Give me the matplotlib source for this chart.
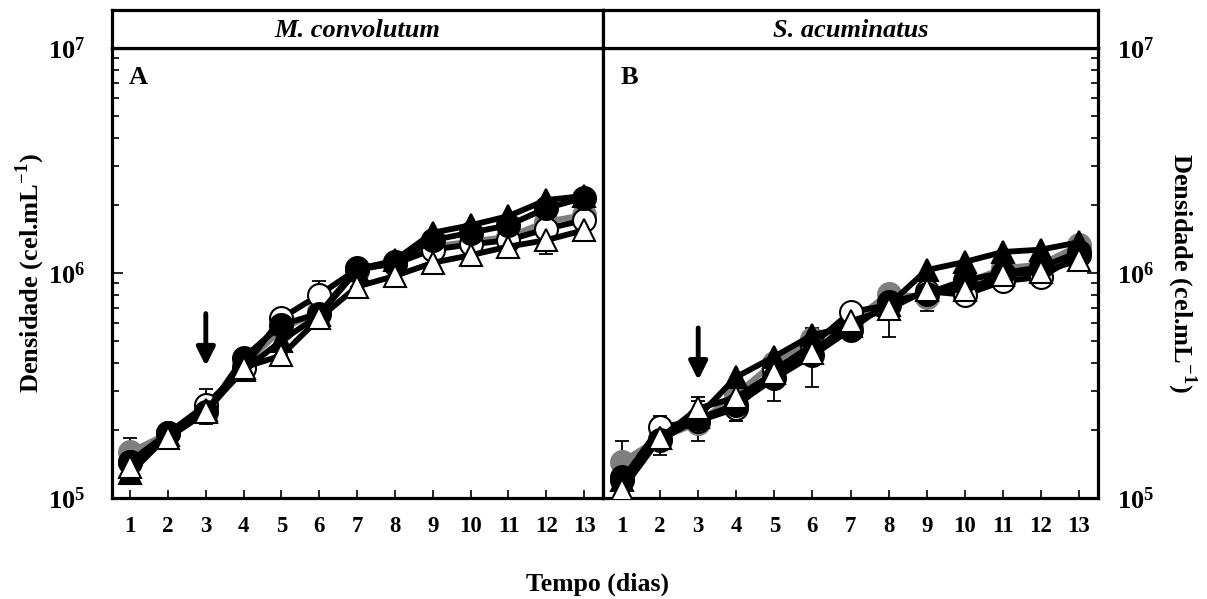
import numpy as np
import matplotlib.pyplot as plt
from matplotlib.ticker import LogLocator, NullFormatter, FixedLocator

plt.rcParams['font.family'] = ['Liberation Serif', 'DejaVu Serif']
plt.rcParams['mathtext.fontset'] = 'custom'
plt.rcParams['mathtext.rm'] = 'Liberation Serif'
plt.rcParams['mathtext.bf'] = 'Liberation Serif:bold'

dias = np.arange(1, 14)
titulos = ['M. convolutum', 'S. acuminatus']
letras = ['A', 'B']

# M. convolutum (cel/mL)
mc_cinza = [1.60e5, 1.94e5, 2.50e5, 3.90e5, 5.60e5, 6.80e5, 1.02e6, 1.12e6, 1.31e6, 1.38e6, 1.45e6, 1.69e6, 1.81e6]
mc_aberto = [1.45e5, 1.94e5, 2.59e5, 3.80e5, 6.30e5, 8.00e5, 1.04e6, 1.10e6, 1.27e6, 1.34e6, 1.40e6, 1.57e6, 1.72e6]
mc_preto = [1.45e5, 1.94e5, 2.40e5, 4.20e5, 5.90e5, 6.60e5, 1.05e6, 1.12e6, 1.40e6, 1.51e6, 1.63e6, 1.94e6, 2.16e6]
mc_tri_preto = [1.29e5, 1.90e5, 2.45e5, 3.70e5, 5.00e5, 6.50e5, 1.03e6, 1.14e6, 1.51e6, 1.63e6, 1.79e6, 2.11e6, 2.20e6]
mc_tri_aberto = [1.38e5, 1.85e5, 2.40e5, 3.80e5, 4.30e5, 6.30e5, 8.70e5, 9.70e5, 1.11e6, 1.20e6, 1.31e6, 1.40e6, 1.55e6]
mc_err_aberto = [0, 0, 0.45e5, 0, 0, 1.2e5, 0, 0, 0, 0, 0, 0, 0]
mc_err_preto = [0, 0, 0.25e5, 0, 0, 0.9e5, 0, 0, 0, 0, 0, 0, 0]
mc_err_cinza = [0.25e5, 0, 0, 0, 0, 0, 0, 0, 0, 0, 0, 0, 0]
mc_err_tri = [0, 0, 0, 0, 0, 0, 0, 0.5e5, 0.8e5, 0.12e6, 0.12e6, 0.18e6, 0]

# S. acuminatus (cel/mL)
sa_cinza = [1.45e5, 1.85e5, 2.15e5, 2.90e5, 4.00e5, 5.10e5, 6.00e5, 8.10e5, 7.80e5, 9.00e5, 1.05e6, 1.09e6, 1.33e6]
sa_aberto = [1.20e5, 2.07e5, 2.20e5, 2.50e5, 3.70e5, 4.80e5, 6.70e5, 7.20e5, 8.30e5, 8.00e5, 9.20e5, 9.60e5, 1.20e6]
sa_preto = [1.24e5, 1.81e5, 2.25e5, 2.60e5, 3.40e5, 4.30e5, 5.60e5, 7.40e5, 8.10e5, 9.30e5, 1.00e6, 1.06e6, 1.24e6]
sa_tri_preto = [1.20e5, 1.85e5, 2.30e5, 3.45e5, 4.25e5, 5.30e5, 5.80e5, 7.20e5, 1.03e6, 1.12e6, 1.24e6, 1.27e6, 1.37e6]
sa_tri_aberto = [1.09e5, 1.85e5, 2.50e5, 2.80e5, 3.60e5, 4.40e5, 6.10e5, 6.90e5, 8.40e5, 8.40e5, 9.80e5, 1.01e6, 1.14e6]
sa_err_aberto = [0, 0.25e5, 0, 0.3e5, 0, 0, 0, 0, 0, 0.6e5, 0, 0, 0]
sa_err_preto = [0, 0.25e5, 0.45e5, 0, 0.7e5, 0, 0, 0, 0, 0, 0, 0, 0]
sa_err_cinza = [0.35e5, 0, 0, 0, 0, 0, 0, 0, 1.0e5, 0, 0, 0, 0]
sa_err_tri = [0, 0, 0.3e5, 0.6e5, 0, 1.3e5, 0, 1.7e5, 0, 0, 0, 0, 0]

# densidade no início e no fim da seta (dia 3)
seta_topo = [6.6e5, 5.7e5]
seta_base = [3.86e5, 3.34e5]

paineis = [
    [(mc_cinza, mc_err_cinza), (mc_aberto, mc_err_aberto), (mc_tri_preto, None),
     (mc_preto, mc_err_preto), (mc_tri_aberto, mc_err_tri)],
    [(sa_cinza, sa_err_cinza), (sa_aberto, sa_err_aberto), (sa_preto, sa_err_preto),
     (sa_tri_preto, None), (sa_tri_aberto, sa_err_tri)],
]
estilos_mc = [('#7f7f7f', 'o', '#7f7f7f', '#7f7f7f'),
              ('black', 'o', 'white', 'black'),
              ('black', '^', 'black', 'black'),
              ('black', 'o', 'black', 'black'),
              ('black', '^', 'white', 'black')]
estilos_sa = [estilos_mc[0], estilos_mc[1], estilos_mc[3], estilos_mc[2], estilos_mc[4]]
estilos = [estilos_mc, estilos_sa]

fig = plt.figure(figsize=(12.07, 5.99), dpi=100)
W, H = 1207, 599
lw_frame = 2.3

posx = [(112, 603, 0.52), (603, 1098, 0.5)]
for i in range(2):
    x0, x1, xlo = posx[i]
    ax = fig.add_axes([x0 / W, 1 - 498 / H, (x1 - x0) / W, (498 - 48) / H])
    hd = fig.add_axes([x0 / W, 1 - 48 / H, (x1 - x0) / W, (48 - 10) / H])
    hd.set_xticks([])
    hd.set_yticks([])
    for s in hd.spines.values():
        s.set_linewidth(lw_frame)
    hd.text(0.5, 0.47, titulos[i], ha='center', va='center', fontsize=19,
            fontweight='bold', style='italic', transform=hd.transAxes)

    for (vals, err), (cor, mk, face, edge) in zip(paineis[i], estilos[i]):
        if err is not None:
            ax.errorbar(dias, vals, yerr=err, fmt='none', ecolor='black',
                        elinewidth=1.3, capsize=5, capthick=1.3, zorder=2)
        ax.plot(dias, vals, color=cor, lw=4.2, marker=mk, markersize=16.5,
                markerfacecolor=face, markeredgecolor=edge, markeredgewidth=1.5, zorder=3)

    ax.set_yscale('log')
    ax.set_ylim(1e5, 1e7)
    ax.set_xlim(xlo, 13.5)
    ax.set_xticks(dias)
    ax.set_xticklabels([str(d) for d in dias], fontsize=16.5, fontweight='bold')
    ax.yaxis.set_major_locator(FixedLocator([1e5, 1e6, 1e7]))
    ax.yaxis.set_minor_locator(LogLocator(base=10, subs=np.arange(2, 10)))
    ax.yaxis.set_minor_formatter(NullFormatter())
    ax.set_yticklabels([r'$\mathbf{10^5}$', r'$\mathbf{10^6}$', r'$\mathbf{10^7}$'], fontsize=19)
    ax.tick_params(axis='x', direction='in', length=6, width=1.2, pad=13, top=False)
    for s in ax.spines.values():
        s.set_linewidth(lw_frame)

    ylab = 'Densidade (cel.mL$^{\\mathbf{-1}}$)'
    if i == 0:
        ax.tick_params(axis='y', which='both', direction='in', left=True, right=False, width=1.2)
        ax.tick_params(axis='y', which='major', length=8, pad=19)
        ax.tick_params(axis='y', which='minor', length=5)
        ax.set_ylabel(ylab, fontsize=19, fontweight='bold', va='center')
        ax.yaxis.set_label_coords((30 - 112) / 491, 0.5)
    else:
        ax.yaxis.tick_right()
        ax.yaxis.set_label_position('right')
        ax.tick_params(axis='y', which='both', direction='in', left=False, right=True, width=1.2)
        ax.tick_params(axis='y', which='major', length=8, pad=14)
        ax.tick_params(axis='y', which='minor', length=5)
        ax.set_ylabel(ylab, fontsize=19, fontweight='bold', rotation=-90, va='center')
        ax.yaxis.set_label_coords((1182 - 603) / 495, 0.5)

    ax.text(0.035, 0.935, letras[i], transform=ax.transAxes, fontsize=19,
            fontweight='bold', va='center', ha='left')
    ax.annotate('', xy=(3, seta_base[i]), xytext=(3, seta_topo[i]),
                arrowprops=dict(arrowstyle='-|>,head_length=1.1,head_width=0.55',
                                color='black', lw=3.5, shrinkA=0, shrinkB=0))

fig.text(597 / W, 1 - 584 / H, 'Tempo (dias)', ha='center', va='center',
         fontsize=18.5, fontweight='bold')

fig.savefig('out.png', dpi=100)
